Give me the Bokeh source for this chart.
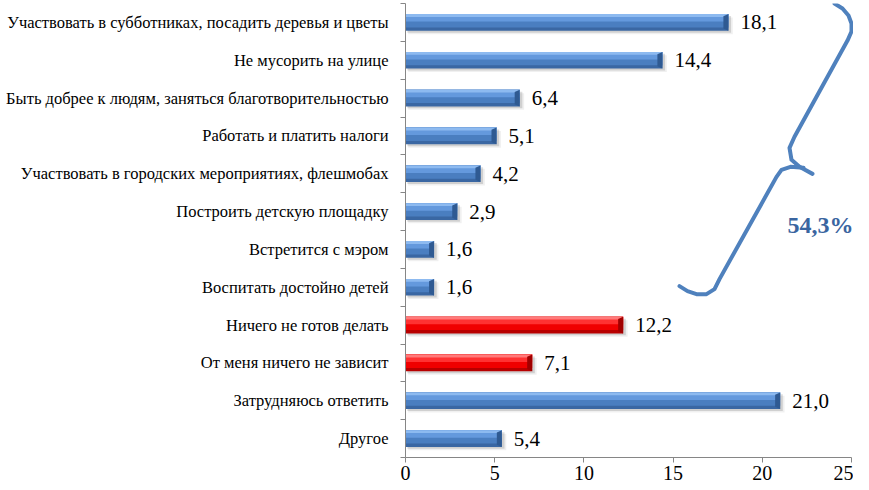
from bokeh.plotting import figure
from bokeh.models import Range1d, FixedTicker, ColumnDataSource, Label
from bokeh.embed import file_html
from bokeh.resources import INLINE
from bokeh.core.properties import value

categories = [
    "Участвовать в субботниках, посадить деревья и цветы",
    "Не мусорить на улице",
    "Быть добрее к людям, заняться благотворительностью",
    "Работать и платить налоги",
    "Участвовать в городских мероприятиях, флешмобах",
    "Построить детскую площадку",
    "Встретится с мэром",
    "Воспитать достойно детей",
    "Ничего не готов делать",
    "От меня ничего не зависит",
    "Затрудняюсь ответить",
    "Другое",
]
values = [18.1, 14.4, 6.4, 5.1, 4.2, 2.9, 1.6, 1.6, 12.2, 7.1, 21.0, 5.4]
negative = [False] * 8 + [True, True, False, False]
x_ticks = [0, 5, 10, 15, 20, 25]
bracket_total = "54,3%"

SERIF = "'Liberation Serif', 'Times New Roman', serif"

# brace decoration shape (reference pixel geometry -> data units)
PX_PER_X = 17.84
PX_PER_Y = 37.75
SHIFT = 11
brace_upper_px = [(845, 3), (853, 8), (859, 15), (862, 23), (862, 31), (858, 40),
                  (805, 136), (800, 147), (802, 159), (810, 166), (823, 173)]
brace_lower_px = [(814, 167), (801, 166), (792, 169), (787, 176), (730, 278),
                  (725, 288), (717, 293), (707, 293), (698, 290), (690, 285)]

def to_data(pts):
    return ([(px - SHIFT - 405) / PX_PER_X for px, _ in pts],
            [(py - 3) / PX_PER_Y for _, py in pts])

n = len(categories)
centers = [i + 0.5 for i in range(n)]

W, H = 853, 482
frame_left = 405
x_end = (W - frame_left) / PX_PER_X

p = figure(width=W, height=H, output_backend="svg", toolbar_location=None,
           x_range=Range1d(0, x_end), y_range=Range1d(n, 0),
           min_border_left=frame_left, min_border_right=0, min_border_top=3,
           min_border_bottom=0)
p.outline_line_color = None
p.xgrid.visible = False
p.ygrid.visible = False
p.background_fill_color = "white"

h = 0.44
blue = ["#3A67A3", "#4A7EC0", "#6499DD", "#8DBAF0"]
red = ["#B80000", "#F00000", "#FF3232", "#FF7A7A"]

def layer(frac_top, frac_bot):
    ys, hs = [], []
    for c in centers:
        top = c - h / 2
        ys.append(top + h * (frac_top + frac_bot) / 2)
        hs.append(h * (frac_bot - frac_top))
    return ys, hs

# shadow
p.hbar(y=[c + 0.05 for c in centers], right=[v + 0.15 for v in values], left=0.1,
       height=h, fill_color="#000000", fill_alpha=0.13, line_color=None)
p.hbar(y=[c + 0.09 for c in centers], right=[v + 0.25 for v in values], left=0.15,
       height=h, fill_color="#000000", fill_alpha=0.06, line_color=None)
layers = [(0.0, 1.0), (0.0, 0.8), (0.0, 0.45), (0.0, 0.17)]
for k, (a, b) in enumerate(layers):
    ys, hs = layer(a, b)
    cols = [red[k] if neg else blue[k] for neg in negative]
    p.hbar(y=ys, right=values, left=0, height=hs, fill_color=cols, line_color=None)

# bevelled right ends
bev = 0.28
xs, ys, bc = [], [], []
for v, c, neg in zip(values, centers, negative):
    top, bot = c - h / 2, c + h / 2
    xs.append([v - bev, v, v, v - bev])
    ys.append([top + 0.06, top, bot, bot - 0.06])
    bc.append("#A00000" if neg else "#2F5A92")
p.patches(xs, ys, fill_color=bc, line_color=None)

labels = [f"{v:.1f}".replace(".", ",") for v in values]
src = ColumnDataSource(dict(x=values, y=centers, t=labels))
p.text(x="x", y="y", text="t", source=src, x_offset=12, text_baseline="middle",
       text_align="left", text_font=value(SERIF), text_font_size="21px",
       text_color="black")

bx, by = to_data(brace_upper_px)
p.line(bx, by, line_color="#4F81BD", line_width=4, line_cap="round", line_join="round")
bx, by = to_data(brace_lower_px)
p.line(bx, by, line_color="#4F81BD", line_width=4, line_cap="round", line_join="round")

p.add_layout(Label(x=(831 - SHIFT - 405) / PX_PER_X, y=(224 - 3) / PX_PER_Y, text=bracket_total,
                   text_align="center", text_baseline="middle",
                   text_font=SERIF, text_font_style="bold",
                   text_font_size="24px", text_color="#3A65A0"))

# axes
xa = p.xaxis[0]
xa.ticker = FixedTicker(ticks=x_ticks)
xa.bounds = (0, 25)
xa.axis_line_color = "#868686"
xa.major_tick_line_color = "#868686"
xa.major_tick_out = 5
xa.major_tick_in = 0
xa.minor_tick_line_color = None
xa.major_label_text_font = SERIF
xa.major_label_text_font_size = "20px"
xa.major_label_text_color = "black"
xa.major_label_standoff = 3

ya = p.yaxis[0]
ya.ticker = FixedTicker(ticks=centers, minor_ticks=list(range(n + 1)))
ya.major_label_overrides = {c: name for c, name in zip(centers, categories)}
ya.axis_line_color = "#868686"
ya.major_tick_line_color = None
ya.major_tick_out = 0
ya.major_tick_in = 0
ya.minor_tick_line_color = "#868686"
ya.minor_tick_out = 5
ya.minor_tick_in = 0
ya.major_label_text_font = SERIF
ya.major_label_text_font_size = "16.5px"
ya.major_label_text_color = "black"
ya.major_label_standoff = 12

open("out.html", "w").write(file_html(p, INLINE))
